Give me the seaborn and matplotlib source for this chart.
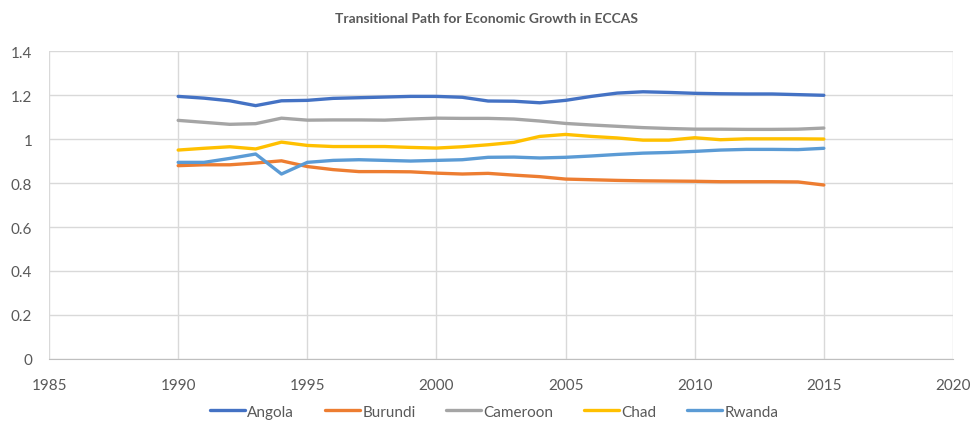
import seaborn as sns
import matplotlib.pyplot as plt
import matplotlib.ticker as mticker
import pandas as pd

years = list(range(1990, 2016))

angola = [1.194, 1.186, 1.174, 1.152, 1.174, 1.176, 1.185, 1.188, 1.191, 1.194, 1.194, 1.190, 1.173,
          1.172, 1.165, 1.176, 1.194, 1.209, 1.215, 1.212, 1.208, 1.206, 1.205, 1.205, 1.202, 1.199]
burundi = [0.879, 0.883, 0.883, 0.891, 0.901, 0.875, 0.861, 0.852, 0.852, 0.851, 0.845, 0.841, 0.844,
           0.836, 0.829, 0.818, 0.815, 0.812, 0.810, 0.809, 0.808, 0.806, 0.806, 0.806, 0.805, 0.791]
cameroon = [1.085, 1.076, 1.067, 1.070, 1.095, 1.086, 1.087, 1.087, 1.086, 1.091, 1.095, 1.094, 1.094,
            1.091, 1.082, 1.071, 1.064, 1.058, 1.052, 1.048, 1.045, 1.045, 1.044, 1.044, 1.045, 1.050]
chad = [0.950, 0.958, 0.965, 0.955, 0.986, 0.971, 0.966, 0.966, 0.966, 0.962, 0.959, 0.965, 0.974,
        0.985, 1.012, 1.021, 1.012, 1.005, 0.995, 0.995, 1.006, 0.997, 1.001, 1.001, 1.001, 1.000]
rwanda = [0.894, 0.894, 0.912, 0.932, 0.841, 0.894, 0.903, 0.906, 0.903, 0.900, 0.903, 0.906, 0.917,
          0.918, 0.914, 0.917, 0.923, 0.930, 0.936, 0.939, 0.944, 0.950, 0.953, 0.953, 0.952, 0.958]

countries = ['Angola', 'Burundi', 'Cameroon', 'Chad', 'Rwanda']
colors = ['#4472C4', '#ED7D31', '#A5A5A5', '#FFC000', '#5B9BD5']

df = pd.DataFrame({'year': years, 'Angola': angola, 'Burundi': burundi,
                   'Cameroon': cameroon, 'Chad': chad, 'Rwanda': rwanda})
df_long = df.melt(id_vars='year', var_name='country', value_name='value')

sns.set_style('white')
plt.rcParams['font.family'] = ['Lato', 'DejaVu Sans']

fig = plt.figure(figsize=(9.73, 4.27), dpi=100)
ax = fig.add_axes([0.0504, 0.157, 0.929, 0.721])

sns.lineplot(data=df_long, x='year', y='value', hue='country', hue_order=countries,
             palette=colors, linewidth=2.4, ax=ax, legend=True)

ax.set_xlim(1985, 2020)
ax.set_ylim(0, 1.4)
ax.xaxis.set_major_locator(mticker.MultipleLocator(5))
ax.yaxis.set_major_locator(mticker.MultipleLocator(0.2))
ax.yaxis.set_major_formatter(mticker.FuncFormatter(lambda v, p: f'{v:g}'))
ax.grid(True, color='#d9d9d9', linewidth=1)
ax.set_axisbelow(True)
for side in ['top', 'right', 'left']:
    ax.spines[side].set_visible(False)
ax.spines['bottom'].set_color('#bfbfbf')
ax.tick_params(axis='both', length=0, labelsize=11, labelcolor='#595959')
ax.tick_params(axis='x', pad=14)
ax.tick_params(axis='y', pad=12)
ax.set_xlabel('')
ax.set_ylabel('')

fig.suptitle('Transitional Path for Economic Growth in ECCAS', x=0.5, y=0.97,
             fontsize=10, fontweight='bold', color='#595959')

handles, labels = ax.get_legend_handles_labels()
ax.legend_.remove()
fig.legend(handles, labels, loc='lower center', bbox_to_anchor=(0.508, -0.015), ncol=5,
           frameon=False, fontsize=11, handlelength=2.3, columnspacing=2.0, handletextpad=0.15,
           labelcolor='#595959')

fig.savefig('out.png', dpi=100)
